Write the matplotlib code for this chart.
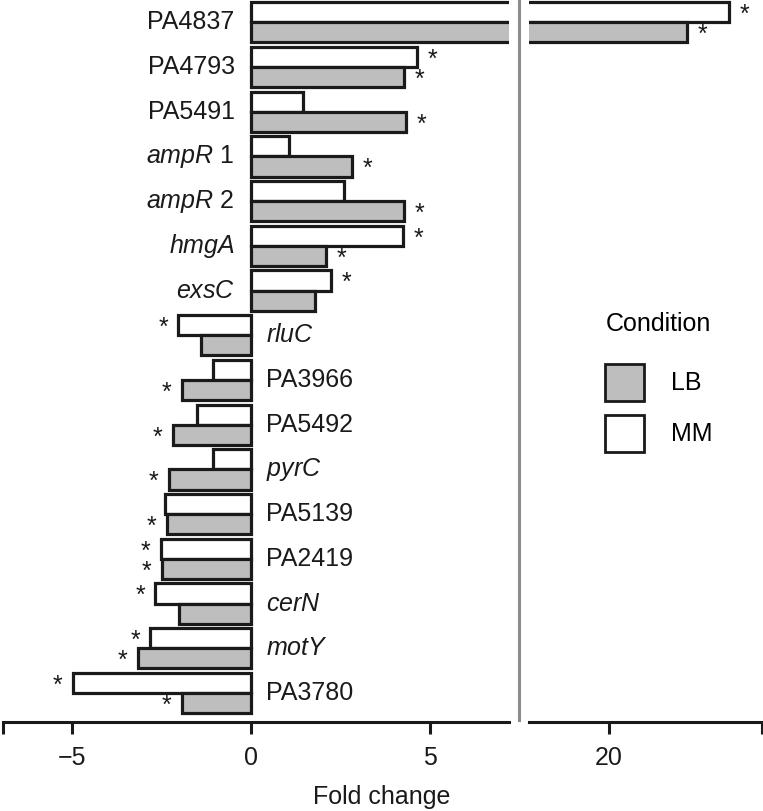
import matplotlib
matplotlib.use('Agg')
import matplotlib.pyplot as plt
from matplotlib.patches import Patch
from matplotlib.lines import Line2D
import numpy as np

plt.rcParams['font.family'] = ['Liberation Sans', 'DejaVu Sans']
plt.rcParams['mathtext.fontset'] = 'custom'
plt.rcParams['mathtext.rm'] = 'Liberation Sans'
plt.rcParams['mathtext.it'] = 'Liberation Sans:italic'

# valores
genes = ['PA4837', 'PA4793', 'PA5491', r'$\mathit{ampR}$ 1', r'$\mathit{ampR}$ 2',
         r'$\mathit{hmgA}$', r'$\mathit{exsC}$', r'$\mathit{rluC}$', 'PA3966', 'PA5492',
         r'$\mathit{pyrC}$', 'PA5139', 'PA2419', r'$\mathit{cerN}$', r'$\mathit{motY}$', 'PA3780']
lb = [22.18, 4.29, 4.35, 2.83, 4.29, 2.10, 1.80, -1.40, -1.93, -2.17, -2.29, -2.35, -2.49, -2.01, -3.14, -1.93]
mm = [23.36, 4.65, 1.46, 1.06, 2.61, 4.25, 2.25, -2.02, -1.04, -1.51, -1.06, -2.40, -2.50, -2.66, -2.80, -4.97]
sig_lb = [1, 1, 1, 1, 1, 1, 0, 0, 1, 1, 1, 1, 1, 0, 1, 1]
sig_mm = [1, 1, 0, 0, 0, 1, 1, 1, 0, 0, 0, 0, 1, 1, 1, 1]

cor_lb = '#bebebe'
cor_borda = '#1a1a1a'
W, H = 763, 811
fs = 18

fig = plt.figure(figsize=(W / 100, H / 100), dpi=100)
ax_l = fig.add_axes([2.7 / W, 1 - 722 / H, (509 - 2.7) / W, 722 / H])
ax_r = fig.add_axes([529.3 / W, 1 - 722 / H, (761.7 - 529.3) / W, 722 / H])
ax_l.set_xlim(-6.93, 7.22)
ax_r.set_xlim(17.78, 24.27)

y = np.arange(len(genes))
h = 0.45

for ax in (ax_l, ax_r):
    ax.barh(y - h / 2, mm, height=h, color='white', edgecolor=cor_borda, linewidth=2.3)
    ax.barh(y + h / 2, lb, height=h, color=cor_lb, edgecolor=cor_borda, linewidth=2.3)
    ax.set_ylim(15.65, -0.5)
    ax.set_yticks([])
    for s in ['top', 'right', 'left']:
        ax.spines[s].set_visible(False)
    ax.spines['bottom'].set_linewidth(2.2)
    ax.spines['bottom'].set_color(cor_borda)
    ax.tick_params(axis='x', length=8.6, width=2.2, color=cor_borda, pad=9,
                   labelsize=fs, labelcolor='#1a1a1a')
    # asteriscos, so no painel onde cabem
    x0, x1 = ax.get_xlim()
    for i in range(len(genes)):
        for val, sig, off in ((mm[i], sig_mm[i], -h / 2), (lb[i], sig_lb[i], h / 2)):
            sx = val + np.sign(val) * 0.43
            if sig and x0 < sx < x1:
                ax.text(sx, y[i] + off + 0.06, '*', ha='center', va='center',
                        fontsize=fs, color='#1a1a1a')

ax_l.set_xticks([-6.93, -5, 0, 5])
ax_l.set_xticklabels(['', '\u22125', '0', '5'])
ax_r.set_xticks([20, 24.27])
ax_r.set_xticklabels(['20', ''])

# nomes dos genes junto ao zero
for i, g in enumerate(genes):
    if lb[i] > 0:
        ax_l.annotate(g, (0, y[i]), xytext=(-11.5, 0), textcoords='offset points',
                      ha='right', va='center', fontsize=fs, color='#1a1a1a')
    else:
        ax_l.annotate(g, (0, y[i]), xytext=(11, 0), textcoords='offset points',
                      ha='left', va='center', fontsize=fs, color='#1a1a1a')

# linha de quebra do eixo
fig.add_artist(Line2D([519 / W, 519 / W], [1 - 720 / H, 1], color='#8c8c8c', lw=2.2))

fig.text(0.5, 1 - 797 / H, 'Fold change', ha='center', va='center', fontsize=fs, color='#1a1a1a')

handles = [Patch(facecolor=cor_lb, edgecolor=cor_borda, linewidth=2),
           Patch(facecolor='white', edgecolor=cor_borda, linewidth=2)]
leg = fig.legend(handles, ['LB', 'MM'], title='Condition', frameon=False,
                 loc='upper left', bbox_to_anchor=(605 / W, 1 - 312 / H),
                 fontsize=fs, title_fontsize=fs, handlelength=1.556, handleheight=1.9,
                 handletextpad=1.07, labelspacing=0.55, borderpad=0, borderaxespad=0)
leg._legend_box.sep = 20

plt.savefig('out.png', dpi=100)
